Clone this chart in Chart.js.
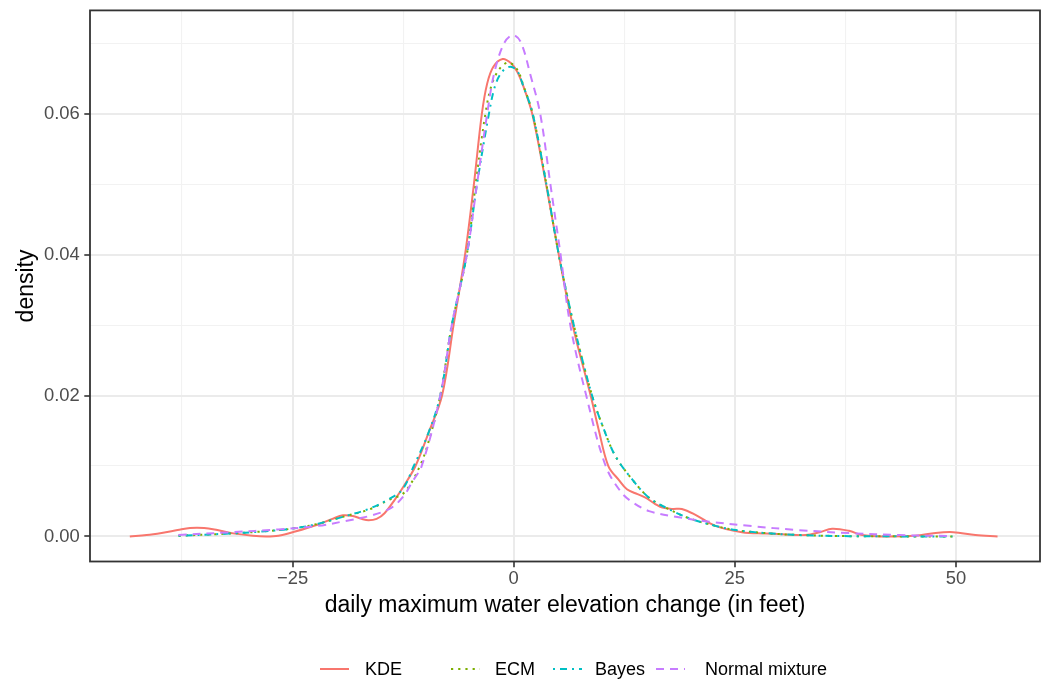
<!DOCTYPE html>
<html>
<head>
<meta charset="utf-8">
<script src="https://cdn.jsdelivr.net/npm/chart.js@4.4.1/dist/chart.umd.min.js"></script>
<style>
  html, body { margin: 0; padding: 0; background: #ffffff; }
  canvas { display: block; }
</style>
</head>
<body>
<canvas id="c" width="1047" height="679"></canvas>
<script>
// ---------- data ----------
const seriesNames = ['KDE', 'ECM', 'Bayes', 'Normal mixture'];

const kdeX = [-43.4, -41.5, -39.8, -38.0, -36.6, -35.0, -33.5, -31.5, -29.5, -28.0, -26.6, -24.7, -22.1, -20.5, -19.3, -18.2, -17.2, -16.4, -15.5, -14.6, -13.4, -12.4, -11.1, -9.6, -8.1, -6.8, -5.5, -4.5, -3.6, -3.0, -2.3, -1.25, -0.3, 0.4, 1.1, 2.1, 3.66, 5.1, 6.67, 8.7, 9.6, 10.7, 11.9, 12.8, 14.0, 14.9, 16.0, 16.8, 18.0, 19.0, 20.5, 22.8, 25.8, 28.5, 30.4, 33.0, 34.6, 36.0, 37.9, 39.4, 41.6, 45.4, 47.7, 49.7, 52.2, 54.7];
const kdeY = [0.0000, 0.0002, 0.0005, 0.0009, 0.0012, 0.0012, 0.0009, 0.0004, 0.0001, 0.0000, 0.0001, 0.0007, 0.0017, 0.0025, 0.0030, 0.0029, 0.0025, 0.0023, 0.0025, 0.0033, 0.0053, 0.0072, 0.0100, 0.0148, 0.0200, 0.0300, 0.0400, 0.0500, 0.0600, 0.0643, 0.0667, 0.0678, 0.0672, 0.0660, 0.0639, 0.0600, 0.0500, 0.0400, 0.0300, 0.0200, 0.0152, 0.0100, 0.0080, 0.0067, 0.0060, 0.0055, 0.0046, 0.0041, 0.0039, 0.0039, 0.0031, 0.0015, 0.0006, 0.0004, 0.0003, 0.0002, 0.0006, 0.0011, 0.0008, 0.0002, 0.0000, 0.0001, 0.0005, 0.0006, 0.0002, 0.0000];

const ecmX = [-37.9, -32.2, -28.5, -25.1, -22.1, -19.0, -16.4, -14.1, -12.4, -10.6, -9.5, -8.3, -7.0, -5.3, -4.3, -3.2, -2.5, -1.6, -0.6, 0.4, 1.1, 2.15, 3.7, 5.1, 6.8, 8.86, 10.2, 11.5, 13.4, 15.3, 17.5, 19.8, 22.8, 25.1, 28.5, 32.2, 37.9, 49.6];
const ecmY = [0.0001, 0.0004, 0.0007, 0.0011, 0.0018, 0.0029, 0.0038, 0.0052, 0.0062, 0.0100, 0.0140, 0.0200, 0.0300, 0.0400, 0.0500, 0.0600, 0.0641, 0.0664, 0.0673, 0.0663, 0.0640, 0.0600, 0.0500, 0.0400, 0.0300, 0.0200, 0.0152, 0.0114, 0.0081, 0.0055, 0.0039, 0.0026, 0.0015, 0.0009, 0.00047, 0.0002, 0.00004, 0.0000];

const bayesX = [-37.9, -32.2, -28.5, -25.1, -22.1, -19.0, -16.4, -14.1, -12.56, -11.3, -9.7, -8.3, -7.0, -5.3, -4.15, -2.8, -2.1, -1.3, -0.4, 0.4, 1.1, 2.15, 3.7, 5.1, 6.8, 8.86, 10.2, 11.5, 13.4, 15.3, 17.5, 19.8, 22.8, 25.1, 28.5, 32.2, 37.9, 49.6];
const bayesY = [0.0001, 0.0004, 0.0007, 0.0011, 0.0018, 0.0029, 0.0039, 0.0053, 0.0067, 0.0100, 0.0145, 0.0200, 0.0300, 0.0400, 0.0500, 0.0600, 0.0640, 0.0660, 0.0667, 0.0661, 0.0639, 0.0600, 0.0500, 0.0400, 0.0300, 0.0200, 0.0152, 0.0114, 0.0081, 0.0055, 0.0039, 0.0026, 0.0015, 0.0009, 0.00047, 0.0002, 0.00004, 0.0000];

const mixX = [-37.9, -31.9, -26.6, -22.1, -19.0, -16.0, -13.8, -12.4, -11.5, -10.4, -8.3, -7.0, -5.3, -4.15, -3.0, -2.2, -1.1, -0.1, 0.8, 1.9, 3.0, 4.15, 5.3, 6.4, 8.2, 10.4, 12.2, 13.5, 15.3, 18.3, 22.1, 26.6, 32.2, 37.9, 43.6, 49.6];
const mixY = [0.0002, 0.0006, 0.0010, 0.0015, 0.0022, 0.0030, 0.0041, 0.0058, 0.0077, 0.0100, 0.0200, 0.0300, 0.0400, 0.0500, 0.0600, 0.0658, 0.0700, 0.0712, 0.0702, 0.0655, 0.0600, 0.0500, 0.0400, 0.0300, 0.0200, 0.0100, 0.0062, 0.0048, 0.0036, 0.0028, 0.0021, 0.0015, 0.0009, 0.00047, 0.00019, 0.00005];

const xTicks = [-37.5, -25, -12.5, 0, 12.5, 25, 37.5, 50];
const xTickLabels = ['', '\u221225', '', '0', '', '25', '', '50'];
const yTicks = [0, 0.01, 0.02, 0.03, 0.04, 0.05, 0.06, 0.07];
const yTickLabels = ['0.00', '', '0.02', '', '0.04', '', '0.06', ''];

const xTitle = 'daily maximum water elevation change (in feet)';
const yTitle = 'density';

// ---------- styling ----------
const colors = ['#F8766D', '#7CAE00', '#00BFC4', '#C77CFF'];
const dashes = [[], [2.2, 5], [2, 5, 7, 5], [8, 6]];
const FONT = "'Liberation Sans', Arial, Helvetica, sans-serif";
Chart.defaults.font.family = FONT;

const toPts = (xs, ys) => xs.map((x, i) => ({ x: x, y: ys[i] }));
const seriesData = [toPts(kdeX, kdeY), toPts(ecmX, ecmY), toPts(bayesX, bayesY), toPts(mixX, mixY)];

const datasets = seriesNames.map((name, i) => ({
  label: name,
  data: seriesData[i],
  borderColor: colors[i],
  borderWidth: 2,
  borderDash: dashes[i],
  borderCapStyle: 'butt',
  borderJoinStyle: 'round',
  pointRadius: 0,
  fill: false,
  tension: 0.35,
  order: seriesNames.length - i
}));

const isMajorX = v => xTickLabels[xTicks.indexOf(v)] !== '';
const isMajorY = v => { const k = yTicks.findIndex(t => Math.abs(t - v) < 1e-9); return k >= 0 && yTickLabels[k] !== ''; };

const decor = {
  id: 'decor',
  afterDraw(chart) {
    const { ctx, chartArea: a } = chart;
    ctx.save();
    // panel border
    ctx.strokeStyle = '#333333';
    ctx.lineWidth = 1.8;
    ctx.setLineDash([]);
    ctx.strokeRect(a.left, a.top, a.right - a.left, a.bottom - a.top);
    // legend
    const keys = [[320, 349, 365], [451, 480, 495], [553, 582, 595], [656, 685, 705]];
    const ly = 669;
    ctx.font = '18px ' + FONT;
    ctx.textBaseline = 'middle';
    ctx.textAlign = 'left';
    seriesNames.forEach((name, i) => {
      const [x0, x1, tx] = keys[i];
      ctx.strokeStyle = colors[i];
      ctx.lineWidth = 2;
      ctx.lineCap = 'butt';
      ctx.setLineDash(dashes[i]);
      ctx.beginPath();
      ctx.moveTo(x0, ly);
      ctx.lineTo(x1, ly);
      ctx.stroke();
      ctx.setLineDash([]);
      ctx.fillStyle = '#000000';
      ctx.fillText(name, tx, ly + 1);
    });
    ctx.restore();
  }
};

new Chart(document.getElementById('c'), {
  type: 'line',
  data: { datasets },
  options: {
    responsive: false,
    animation: false,
    events: [],
    layout: { padding: { left: 0, right: 7, top: 10.4, bottom: 47.5 } },
    plugins: { legend: { display: false }, tooltip: { enabled: false } },
    scales: {
      x: {
        type: 'linear',
        min: -47.9,
        max: 59.5,
        afterBuildTicks: s => { s.ticks = xTicks.map(v => ({ value: v })); },
        afterFit: s => { s.height = 70; s.paddingLeft = 0; s.paddingRight = 0; s.paddingTop = 0; s.paddingBottom = 0; },
        ticks: {
          autoSkip: false,
          maxRotation: 0,
          padding: 0.5,
          color: '#4D4D4D',
          font: { size: 18.4 },
          callback: (v, i) => xTickLabels[i]
        },
        grid: {
          color: c => (c.tick && isMajorX(c.tick.value)) ? '#EBEBEB' : '#F2F2F2',
          lineWidth: c => (c.tick && isMajorX(c.tick.value)) ? 2 : 1.1,
          tickLength: 5.7,
          tickColor: c => (c.tick && isMajorX(c.tick.value)) ? '#333333' : 'rgba(0,0,0,0)',
          tickWidth: 1.6
        },
        border: { display: false },
        title: { display: true, text: xTitle, color: '#000000', font: { size: 23 }, padding: { top: 0, bottom: 11.7 } }
      },
      y: {
        type: 'linear',
        min: -0.00356,
        max: 0.0747,
        afterBuildTicks: s => { s.ticks = yTicks.map(v => ({ value: v })); },
        afterFit: s => { s.width = 90; s.paddingTop = 0; s.paddingBottom = 0; s.paddingLeft = 0; s.paddingRight = 0; },
        ticks: {
          autoSkip: false,
          padding: 4.6,
          color: '#4D4D4D',
          font: { size: 18.4 },
          callback: (v, i) => yTickLabels[i]
        },
        grid: {
          color: c => (c.tick && isMajorY(c.tick.value)) ? '#EBEBEB' : '#F2F2F2',
          lineWidth: c => (c.tick && isMajorY(c.tick.value)) ? 2 : 1.1,
          tickLength: 5.7,
          tickColor: c => (c.tick && isMajorY(c.tick.value)) ? '#333333' : 'rgba(0,0,0,0)',
          tickWidth: 1.6
        },
        border: { display: false },
        title: { display: true, text: yTitle, color: '#000000', font: { size: 23 }, padding: { top: 13, bottom: 0 } }
      }
    }
  },
  plugins: [decor]
});
</script>
</body>
</html>
